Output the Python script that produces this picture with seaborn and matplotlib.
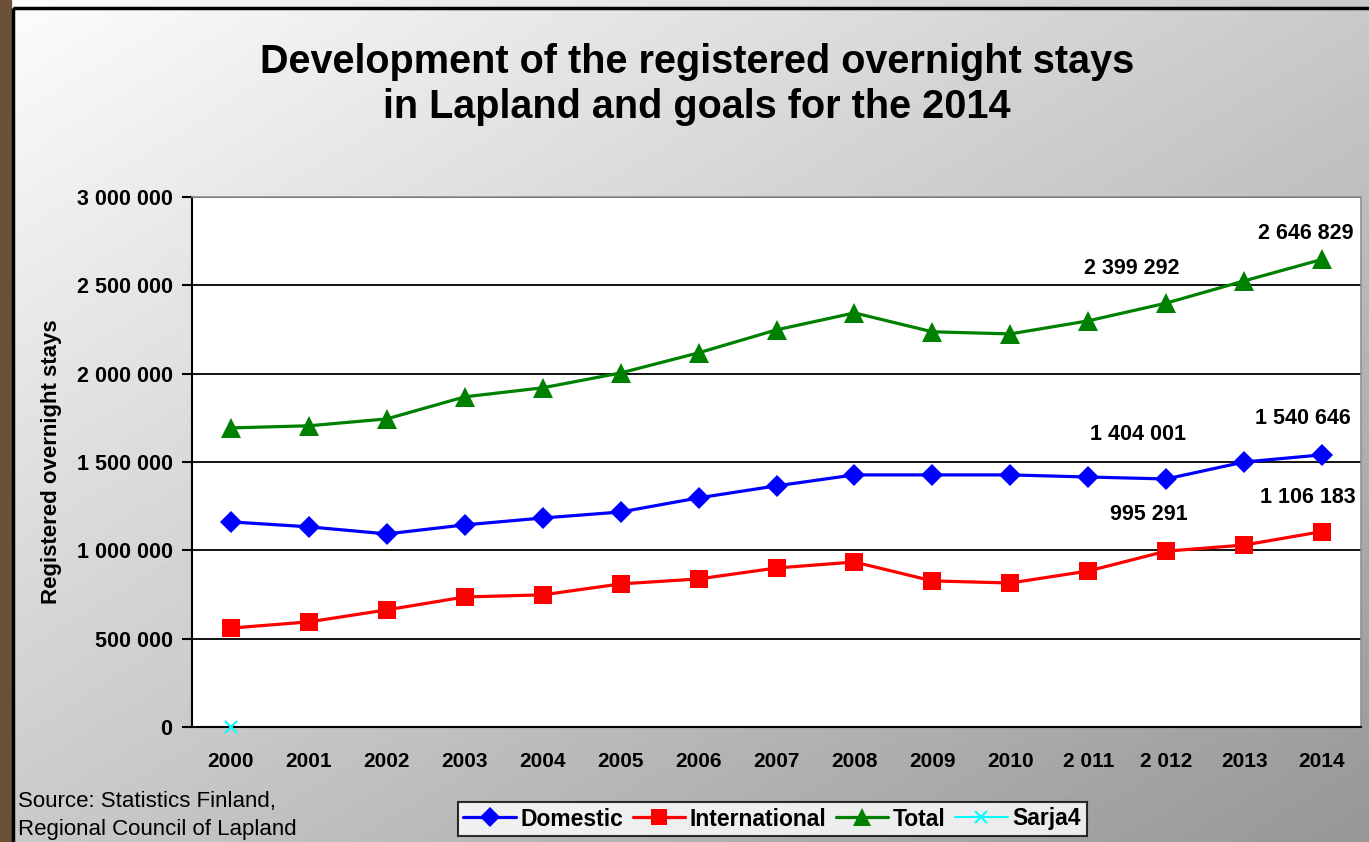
import numpy as np
import pandas as pd
import matplotlib
matplotlib.use("Agg")
import matplotlib.pyplot as plt
from matplotlib.patches import Rectangle
import seaborn as sns

years = ["2000", "2001", "2002", "2003", "2004", "2005", "2006", "2007",
         "2008", "2009", "2010", "2 011", "2 012", "2013", "2014"]
domestic = [1161000, 1133000, 1093000, 1144000, 1183000, 1217000, 1297000, 1365000,
            1427000, 1427000, 1427000, 1415000, 1404001, 1500000, 1540646]
international = [560000, 595000, 663000, 736000, 748000, 810000, 838000, 900000,
                 934000, 827000, 815000, 883000, 995291, 1030000, 1106183]
total = [1693000, 1705000, 1744000, 1869000, 1920000, 2004000, 2118000, 2248000,
         2344000, 2237000, 2225000, 2299000, 2399292, 2525000, 2646829]
sarja4 = [0]

# labelled points: (series, index)
labelled = [("total", 12), ("total", 14), ("domestic", 12), ("domestic", 14),
            ("international", 12), ("international", 14)]

def fmt(v):
    return f"{v:,}".replace(",", " ")

sns.set_style("white")
plt.rcParams['font.family'] = ['Liberation Sans', 'DejaVu Sans']
plt.rcParams['text.color'] = 'black'
plt.rcParams['axes.labelcolor'] = 'black'
plt.rcParams['xtick.color'] = 'black'
plt.rcParams['ytick.color'] = 'black'

W, H = 1369, 842
fig = plt.figure(figsize=(W / 100, H / 100), dpi=100)

# gradient background
bg = fig.add_axes([0, 0, 1, 1], zorder=-10)
u = np.linspace(0, 1, 300)
v = np.linspace(0, 1, 200)
U, V = np.meshgrid(u, v)
G = 0.99 - 0.40 * (0.5 * U + 0.5 * V)
bg.imshow(G, cmap="gray", vmin=0, vmax=1, aspect="auto", extent=[0, 1, 1, 0])
bg.set_xlim(0, 1)
bg.set_ylim(1, 0)
bg.axis("off")
bg.add_patch(Rectangle((0, 0), 11 / W, 1, color="#6b5236", zorder=2))
bg.add_patch(Rectangle((13 / W, 8 / H), 1, 1, fill=False, edgecolor="black", lw=2.5, zorder=3))

ax = fig.add_axes([192 / W, 1 - 727 / H, 1169 / W, 530 / H])
ax.set_facecolor("white")

x = np.arange(len(years))
series = {
    "Domestic": (domestic, "#0000ff", "D", 11),
    "International": (international, "#ff0000", "s", 13.5),
    "Total": (total, "#008000", "^", 14.5),
}
for name, (vals, col, mk, ms) in series.items():
    sns.lineplot(x=x, y=vals, ax=ax, color=col, marker=mk, markersize=ms,
                 markeredgewidth=0, linewidth=2.3, label=name, zorder=3)
sns.lineplot(x=x[:1], y=sarja4, ax=ax, color="#00ffff", marker="x", markersize=9,
             markeredgecolor="#00ffff", markeredgewidth=1.5, linewidth=1.5,
             label="Sarja4", zorder=4, clip_on=False)

data = {"total": total, "domestic": domestic, "international": international}
offsets = {("total", 12): (-34, 35), ("total", 14): (-16, 26),
           ("domestic", 12): (-28, 44), ("domestic", 14): (-19, 36),
           ("international", 12): (-17, 37), ("international", 14): (-14, 34)}
for key in labelled:
    s, i = key
    dx, dy = offsets[key]
    ax.annotate(fmt(data[s][i]), (x[i], data[s][i]), xytext=(dx, dy),
                textcoords="offset pixels", ha="center", va="center",
                fontsize=15.5, fontweight="bold", color="black")

ax.set_xlim(-0.5, len(years) - 0.5)
ax.set_ylim(0, 3000000)
yt = np.arange(0, 3000001, 500000)
ax.set_yticks(yt)
ax.set_yticklabels([fmt(int(t)) for t in yt], fontsize=15.5, fontweight="bold")
ax.set_xticks(x)
ax.set_xticklabels(years, fontsize=15, fontweight="bold")
ax.set_xticks(np.arange(-0.5, len(years), 1), minor=True)
ax.tick_params(axis="x", which="major", length=0, pad=18)
ax.tick_params(axis="x", which="minor", length=7, width=1.5, direction="out", color="black")
ax.tick_params(axis="y", length=7, width=1.5, direction="out", color="black", pad=7, left=True)
ax.grid(axis="y", color="black", linewidth=1.3)
ax.set_axisbelow(True)
for side in ["top", "right"]:
    ax.spines[side].set_color("#909090")
    ax.spines[side].set_linewidth(1.2)
for side in ["left", "bottom"]:
    ax.spines[side].set_color("black")
    ax.spines[side].set_linewidth(1.5)
ax.set_ylabel("Registered overnight stays", fontsize=16, fontweight="bold")
ax.yaxis.set_label_coords(-130 / 1169, 0.5)

ax.get_legend().remove()
handles, labels = ax.get_legend_handles_labels()
leg = fig.legend(handles, labels, loc="center", bbox_to_anchor=(772 / W, 1 - 819 / H),
                 ncol=4, frameon=True, fancybox=False, edgecolor="black",
                 prop={"size": 16.5, "weight": "bold"}, handlelength=2.3,
                 columnspacing=0.4, handletextpad=0.2, borderpad=0.25,
                 borderaxespad=0, markerscale=0.9)
leg.get_frame().set_linewidth(1.5)

fig.text(18 / W, 1 - 801 / H, "Source: Statistics Finland,", fontsize=16, va="center")
fig.text(18 / W, 1 - 829 / H, "Regional Council of Lapland", fontsize=16, va="center")

fig.text(697 / W, 1 - 62 / H, "Development of the registered overnight stays",
         ha="center", va="center", fontsize=28.5, fontweight="bold")
fig.text(697 / W, 1 - 107 / H, "in Lapland and goals for the 2014",
         ha="center", va="center", fontsize=28.5, fontweight="bold")

fig.savefig("out.png", dpi=100)
